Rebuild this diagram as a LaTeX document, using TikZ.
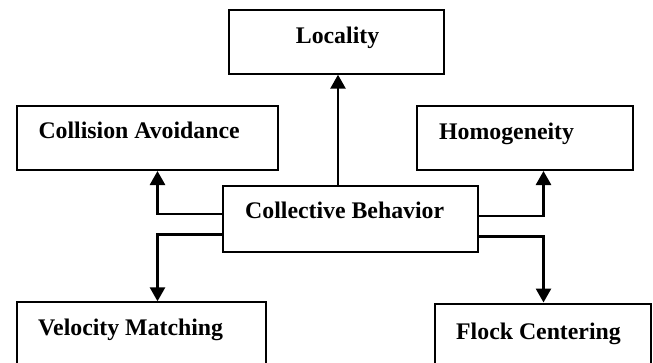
\documentclass[tikz,border=0pt]{standalone}
\usepackage{fontspec}
\setmainfont{Liberation Serif}
\usetikzlibrary{arrows.meta}
\begin{document}
\begin{tikzpicture}[x=1pt,y=-1pt,
  box/.style={draw=black,line width=2pt,rectangle,inner sep=0pt},
  lbl/.style={anchor=base west,inner sep=0pt,font=\fontsize{23.8}{28}\selectfont\bfseries},
  arr/.style={draw=black,line width=2.7pt,-{Triangle[length=14pt,width=15pt]}}]
\useasboundingbox (0,0) rectangle (653,362);
\node[box,minimum width=214.5pt,minimum height=64.2pt] (loc) at (336.25,41.6) {};
\node[box,minimum width=261pt,minimum height=64pt] (ca) at (147.2,138) {};
\node[box,minimum width=216pt,minimum height=64pt] (hom) at (525,138) {};
\node[box,minimum width=254.5pt,minimum height=66pt] (cb) at (350.5,219) {};
\node[box,minimum width=249pt,minimum height=64pt] (vm) at (141.2,334.3) {};
\node[box,minimum width=215.5pt,minimum height=64pt] (fc) at (542.75,335.5) {};
\node[lbl] (tloc) at (295.7,43.3) {Locality};
\node[lbl] (tca) at (38.3,138) {Collision Avoidance};
\node[lbl] (thom) at (439,139) {Homogeneity};
\node[lbl] (tcb) at (245,218) {Collective Behavior};
\node[lbl] (tvm) at (38,335) {Velocity Matching};
\node[lbl] (tfc) at (456,339) {Flock Centering};
\coordinate (jloc) at (338,0);
\coordinate (jca) at (157.5,214);
\coordinate (jvm) at (157.5,234.3);
\coordinate (jhom) at (543.5,216);
\coordinate (jfc) at (543.5,236.7);
\draw[arr] (cb.north -| jloc) -- (loc.south -| jloc);
\draw[arr] (cb.west |- jca) -| (ca.south -| jca);
\draw[arr] (cb.west |- jvm) -| (vm.north -| jvm);
\draw[arr] (cb.east |- jhom) -| (hom.south -| jhom);
\draw[arr] (cb.east |- jfc) -| (fc.north -| jfc);
\end{tikzpicture}
\end{document}
